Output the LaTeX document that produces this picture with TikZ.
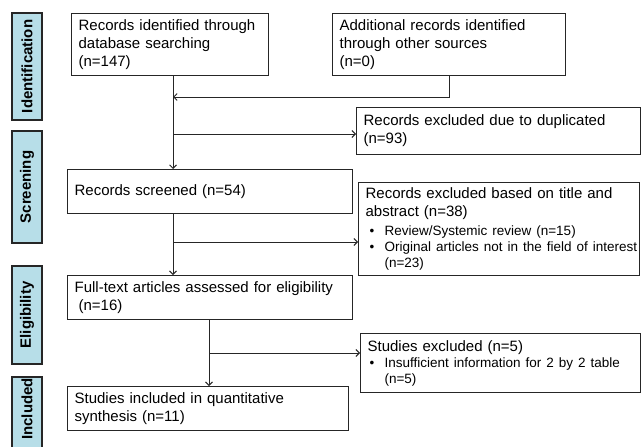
\documentclass[tikz,border=0pt]{standalone}
\usepackage{fontspec}
\setmainfont{Liberation Sans}
\usetikzlibrary{arrows.meta}
\setlength{\parindent}{0pt}
\definecolor{phasefill}{HTML}{B7DEE8}
\definecolor{ln}{HTML}{262626}
\newcommand{\bul}{\makebox[15pt][l]{\textbullet}}
\newcommand{\mainsz}{\fontsize{15}{18}\selectfont}
\newcommand{\bulsz}{\fontsize{13.5}{16}\selectfont}
\begin{document}
\begin{tikzpicture}[x=1pt,y=-1pt,
 box/.style={draw=ln, line width=1.2pt, rectangle, inner xsep=7pt, inner ysep=0pt,
   align=left, font=\mainsz, anchor=north west},
 phase/.style={draw=ln, line width=1.6pt, fill=phasefill, rotate=90,
   font=\bfseries\fontsize{15}{18}\selectfont, inner sep=0pt, minimum height=30pt},
 arr/.style={draw=ln, line width=0.9pt, -{Straight Barb[length=3.5pt,width=7pt]}}]
\useasboundingbox[fill=white] (0,0) rectangle (641,447);
\clip (0,0) rectangle (641,447);

% phase labels
\node[phase, minimum width=107pt] (p1) at (27,66.5) {Identification};
\node[phase, minimum width=112pt] (p2) at (27,187) {Screening};
\node[phase, minimum width=98pt] (p3) at (27,315) {Eligibility};
\node[phase, minimum width=80pt] (p4) at (27,417) {\hspace*{16pt}Included};

% boxes
\node[box, minimum width=197pt, minimum height=62pt, text width=183pt] (id1) at (71,13)
  {Records identified through\\database searching\\(n=147)};
\node[box, minimum width=233pt, minimum height=62pt, text width=219pt] (id2) at (332,13)
  {Additional records identified\\through other sources\\(n=0)};
\node[box, minimum width=284pt, minimum height=47pt, text width=270pt] (dup) at (356,107)
  {Records excluded due to duplicated\\(n=93)};
\node[box, minimum width=285pt, minimum height=44pt, text width=271pt] (scr) at (67,169)
  {Records screened (n=54)};
\node[box, minimum width=281pt, minimum height=93pt, text width=267pt] (ttl) at (358,182)
  {{\mainsz \mbox{Records excluded based on title and}\\\mbox{abstract (n=38)}\par}\vspace{3pt}%
   {\bulsz\mbox{\hspace*{4pt}\bul Review/Systemic review (n=15)}\\
   \mbox{\hspace*{4pt}\bul Original articles not in the field of interest}\\
   \mbox{\hspace*{19pt}(n=23)}\par}};
\node[box, minimum width=285pt, minimum height=44pt, text width=271pt] (full) at (67,275)
  {Full-text articles assessed for eligibility\\\hspace*{4pt}(n=16)};
\node[box, minimum width=280pt, minimum height=59pt, text width=266pt] (excl) at (360,333)
  {{\mainsz \mbox{Studies excluded (n=5)}\par}%
   {\bulsz\mbox{\hspace*{2pt}\bul Insufficient information for 2 by 2 table}\\
   \mbox{\hspace*{17pt}(n=5)}\par}};
\node[box, minimum width=281pt, minimum height=44pt, text width=267pt] (incl) at (67,386)
  {Studies included in quantitative\\synthesis (n=11)};

% junctions
\coordinate (j1) at (173,97);
\coordinate (j2) at (173,134);
\coordinate (j3) at (173,242);
\coordinate (j4) at (209,353);

% connectors
\draw[arr] (id1.south -| j1) -- (scr.north -| j1);
\draw[arr] (id2.south) |- (j1);
\draw[arr] (j2) -- (j2 -| dup.west);
\draw[arr] (scr.south -| j3) -- (full.north -| j3);
\draw[arr] (j3) -- (j3 -| ttl.west);
\draw[arr] (full.south -| j4) -- (incl.north -| j4);
\draw[arr] (j4) -- (j4 -| excl.west);
\end{tikzpicture}
\end{document}
